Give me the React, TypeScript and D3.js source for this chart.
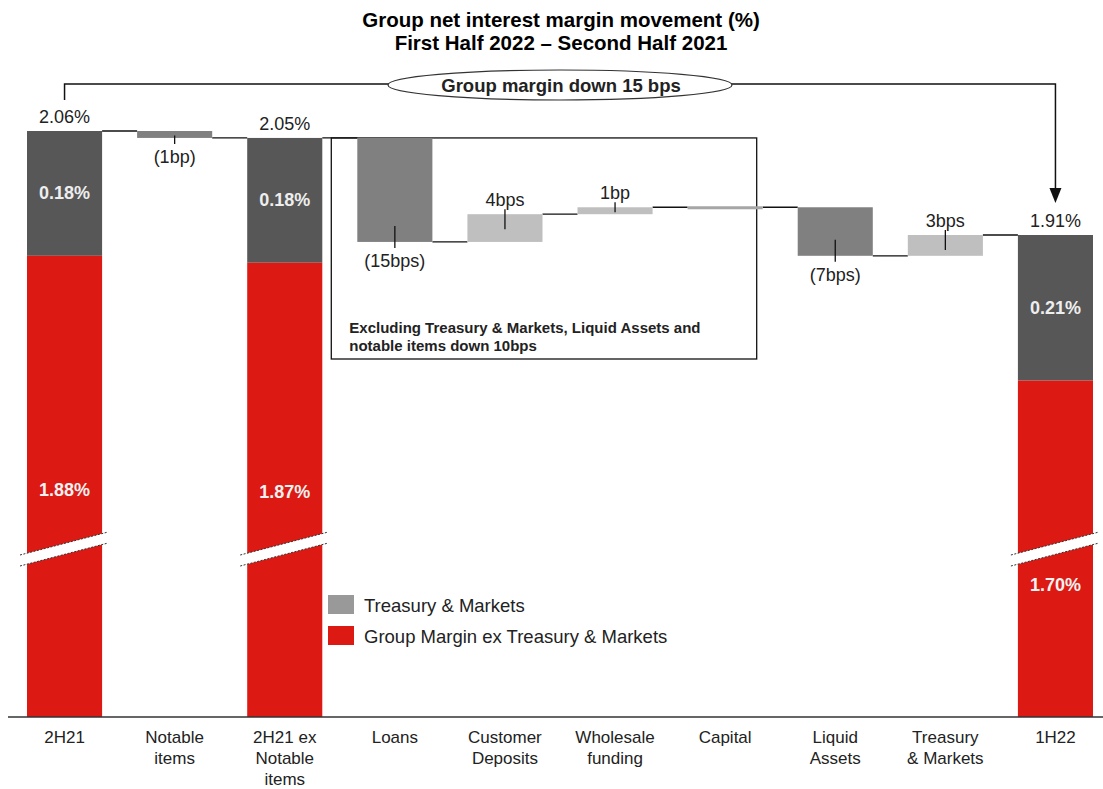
import { scaleBand, scaleLinear } from 'd3'

// categories along the axis, and how their tick labels wrap
const categories = [
  '2H21',
  'Notable items',
  '2H21 ex Notable items',
  'Loans',
  'Customer Deposits',
  'Wholesale funding',
  'Capital',
  'Liquid Assets',
  'Treasury & Markets',
  '1H22',
]
const categoryLines = [
  ['2H21'],
  ['Notable', 'items'],
  ['2H21 ex', 'Notable', 'items'],
  ['Loans'],
  ['Customer', 'Deposits'],
  ['Wholesale', 'funding'],
  ['Capital'],
  ['Liquid', 'Assets'],
  ['Treasury', '& Markets'],
  ['1H22'],
]

// total bars (%)
const totalCats = ['2H21', '2H21 ex Notable items', '1H22']
const totalMargin = [2.06, 2.05, 1.91]
const tmMargin = [0.18, 0.18, 0.21]
const exTmMargin = [1.88, 1.87, 1.7]

// movements (bps)
const moveCats = [
  'Notable items',
  'Loans',
  'Customer Deposits',
  'Wholesale funding',
  'Capital',
  'Liquid Assets',
  'Treasury & Markets',
]
const moveBps = [-1, -15, 4, 1, 0, -7, 3]

const legendItems = ['Treasury & Markets', 'Group Margin ex Treasury & Markets']

const W = 1103
const H = 789
const BASE = 717
const BREAK_Y = 549
const FONT = '"Liberation Sans", Arial, Helvetica, sans-serif'
const RED = '#dc1912'
const DARK = '#575757'
const TEXT = '#222'

const x = scaleBand<string>().domain(categories).range([9.5, 1110.5]).paddingInner(0.318).paddingOuter(0.159)
const y = scaleLinear().domain([1.91, 2.06]).range([235, 131])
const bw = x.bandwidth()

interface Step {
  cat: string
  kind: 'total' | 'move'
  start: number
  end: number
  ti?: number
  bps?: number
}

function buildSteps(): Step[] {
  const out: Step[] = []
  let level = 0
  categories.forEach((cat) => {
    const ti = totalCats.indexOf(cat)
    if (ti >= 0) {
      level = totalMargin[ti]
      out.push({ cat, kind: 'total', start: level, end: level, ti })
    } else {
      const bps = moveBps[moveCats.indexOf(cat)]
      const next = Math.round((level + bps / 100) * 10000) / 10000
      out.push({ cat, kind: 'move', start: level, end: next, bps })
      level = next
    }
  })
  return out
}

const fmtBps = (b: number) => {
  const unit = Math.abs(b) === 1 ? 'bp' : 'bps'
  return b < 0 ? `(${-b}${unit})` : `${b}${unit}`
}

function CategoryLabel({ cx, cy, lines }: { cx: number; cy: number; lines: string[] }) {
  return (
    <g>
      {lines.map((l, i) => (
        <text
          key={i}
          x={cx}
          y={cy + i * 21}
          textAnchor="middle"
          dominantBaseline="central"
          fontSize={17}
          fill={TEXT}
        >
          {l}
        </text>
      ))}
    </g>
  )
}

export default function App() {
  const steps = buildSteps()
  const cx = (c: string) => (x(c) ?? 0) + bw / 2

  const boxLeft = (x('2H21 ex Notable items') ?? 0) + bw + 9
  const boxRight = (x('Capital') ?? 0) + bw - 6
  const boxTop = y(2.05)
  const boxBottom = 359

  const arrowL = cx('2H21')
  const arrowR = cx('1H22')
  const arrowY = 84

  return (
    <svg
      width={W}
      height={H}
      style={{ position: 'absolute', left: 0, top: 0, background: '#fff' }}
      fontFamily={FONT}
    >
      {/* title */}
      <text x={561} y={19} textAnchor="middle" dominantBaseline="central" fontSize={20.5} fontWeight="bold" fill="#000">
        Group net interest margin movement (%)
      </text>
      <text x={561} y={42} textAnchor="middle" dominantBaseline="central" fontSize={20.5} fontWeight="bold" fill="#000">
        First Half 2022 – Second Half 2021
      </text>

      {/* explanatory box */}
      <rect
        x={boxLeft}
        y={boxTop}
        width={boxRight - boxLeft}
        height={boxBottom - boxTop}
        fill="none"
        stroke="#111"
        strokeWidth={1.3}
      />
      <text x={boxLeft + 18} y={327} dominantBaseline="central" fontSize={15} fontWeight="bold" fill={TEXT}>
        Excluding Treasury &amp; Markets, Liquid Assets and
      </text>
      <text x={boxLeft + 18} y={345} dominantBaseline="central" fontSize={15} fontWeight="bold" fill={TEXT}>
        notable items down 10bps
      </text>

      {/* connectors */}
      {steps.slice(0, -1).map((s, i) => {
        const nx = x(steps[i + 1].cat) ?? 0
        return (
          <line
            key={`c${i}`}
            x1={(x(s.cat) ?? 0) + bw}
            x2={nx}
            y1={y(s.end)}
            y2={y(s.end)}
            stroke="#111"
            strokeWidth={1.3}
          />
        )
      })}

      {/* bars */}
      {steps.map((s) => {
        const bx = x(s.cat) ?? 0
        if (s.kind === 'total') {
          const ti = s.ti as number
          const top = y(totalMargin[ti])
          const mid = y(exTmMargin[ti])
          const below = ti === 2
          const redLabelY = below ? BREAK_Y + 36 : BREAK_Y - 59 + ti * 2
          const x0 = bx - 7
          const x1 = bx + bw + 6
          const slope = 23
          return (
            <g key={s.cat}>
              <rect x={bx} y={top} width={bw} height={mid - top} fill={DARK} />
              <rect x={bx} y={mid} width={bw} height={BASE - mid} fill={RED} />
              <polygon
                points={`${x0},${BREAK_Y + 6} ${x1},${BREAK_Y + 6 - slope} ${x1},${BREAK_Y + 17 - slope} ${x0},${BREAK_Y + 17}`}
                fill="#fff"
              />
              <line x1={x0} y1={BREAK_Y + 6} x2={x1} y2={BREAK_Y + 6 - slope} stroke="#333" strokeWidth={1} strokeDasharray="2,1.5" />
              <line x1={x0} y1={BREAK_Y + 17} x2={x1} y2={BREAK_Y + 17 - slope} stroke="#333" strokeWidth={1} strokeDasharray="2,1.5" />
              <text x={bx + bw / 2} y={top - 14} textAnchor="middle" dominantBaseline="central" fontSize={18} fill={TEXT}>
                {totalMargin[ti].toFixed(2)}%
              </text>
              <text x={bx + bw / 2} y={(top + mid) / 2} textAnchor="middle" dominantBaseline="central" fontSize={18} fontWeight="bold" fill="#eee">
                {tmMargin[ti].toFixed(2)}%
              </text>
              <text x={bx + bw / 2} y={redLabelY} textAnchor="middle" dominantBaseline="central" fontSize={18} fontWeight="bold" fill="#f2f2f2">
                {exTmMargin[ti].toFixed(2)}%
              </text>
            </g>
          )
        }
        const bps = s.bps as number
        const top = y(Math.max(s.start, s.end))
        const bottom = y(Math.min(s.start, s.end))
        const h = Math.max(bottom - top, 3)
        const fill = bps < 0 ? '#808080' : bps === 0 ? '#a6a6a6' : '#bfbfbf'
        const c = bx + bw / 2
        return (
          <g key={s.cat}>
            <rect x={bx} y={bps === 0 ? top - 1 : top} width={bw} height={h} fill={fill} />
            {bps < 0 && (
              <>
                <line x1={c} x2={c} y1={Math.max(bottom - 16, (top + bottom) / 2 + 1)} y2={bottom + 6} stroke="#111" strokeWidth={1.3} />
                <text x={c} y={bottom + 19} textAnchor="middle" dominantBaseline="central" fontSize={18} fill={TEXT}>
                  {fmtBps(bps)}
                </text>
              </>
            )}
            {bps > 0 && (
              <>
                <line x1={c} x2={c} y1={top - 5} y2={Math.min(top + 15, bottom - 2)} stroke="#111" strokeWidth={1.3} />
                <text x={c} y={top - 14} textAnchor="middle" dominantBaseline="central" fontSize={18} fill={TEXT}>
                  {fmtBps(bps)}
                </text>
              </>
            )}
          </g>
        )
      })}

      {/* group margin arrow */}
      <path
        d={`M${arrowL},100 V${arrowY} H${arrowR} V190`}
        fill="none"
        stroke="#111"
        strokeWidth={1.5}
      />
      <polygon points={`${arrowR - 6},188 ${arrowR + 6},188 ${arrowR},203`} fill="#111" />
      <ellipse cx={560} cy={85} rx={172} ry={15} fill="#fff" stroke="#333" strokeWidth={1.2} />
      <text x={561} y={85} textAnchor="middle" dominantBaseline="central" fontSize={18.5} fontWeight="bold" fill={TEXT}>
        Group margin down 15 bps
      </text>

      {/* legend */}
      {legendItems.map((l, i) => (
        <g key={l} transform={`translate(328,${595 + i * 31})`}>
          <rect width={26} height={19} fill={i === 0 ? '#999' : RED} />
          <text x={36} y={10} dominantBaseline="central" fontSize={18.5} fill={TEXT}>
            {l}
          </text>
        </g>
      ))}

      {/* axis */}
      <line x1={8} x2={1103} y1={BASE} y2={BASE} stroke="#333" strokeWidth={1.5} />
      {categories.map((c, i) => (
        <CategoryLabel key={c} cx={cx(c)} cy={737} lines={categoryLines[i]} />
      ))}
    </svg>
  )
}
